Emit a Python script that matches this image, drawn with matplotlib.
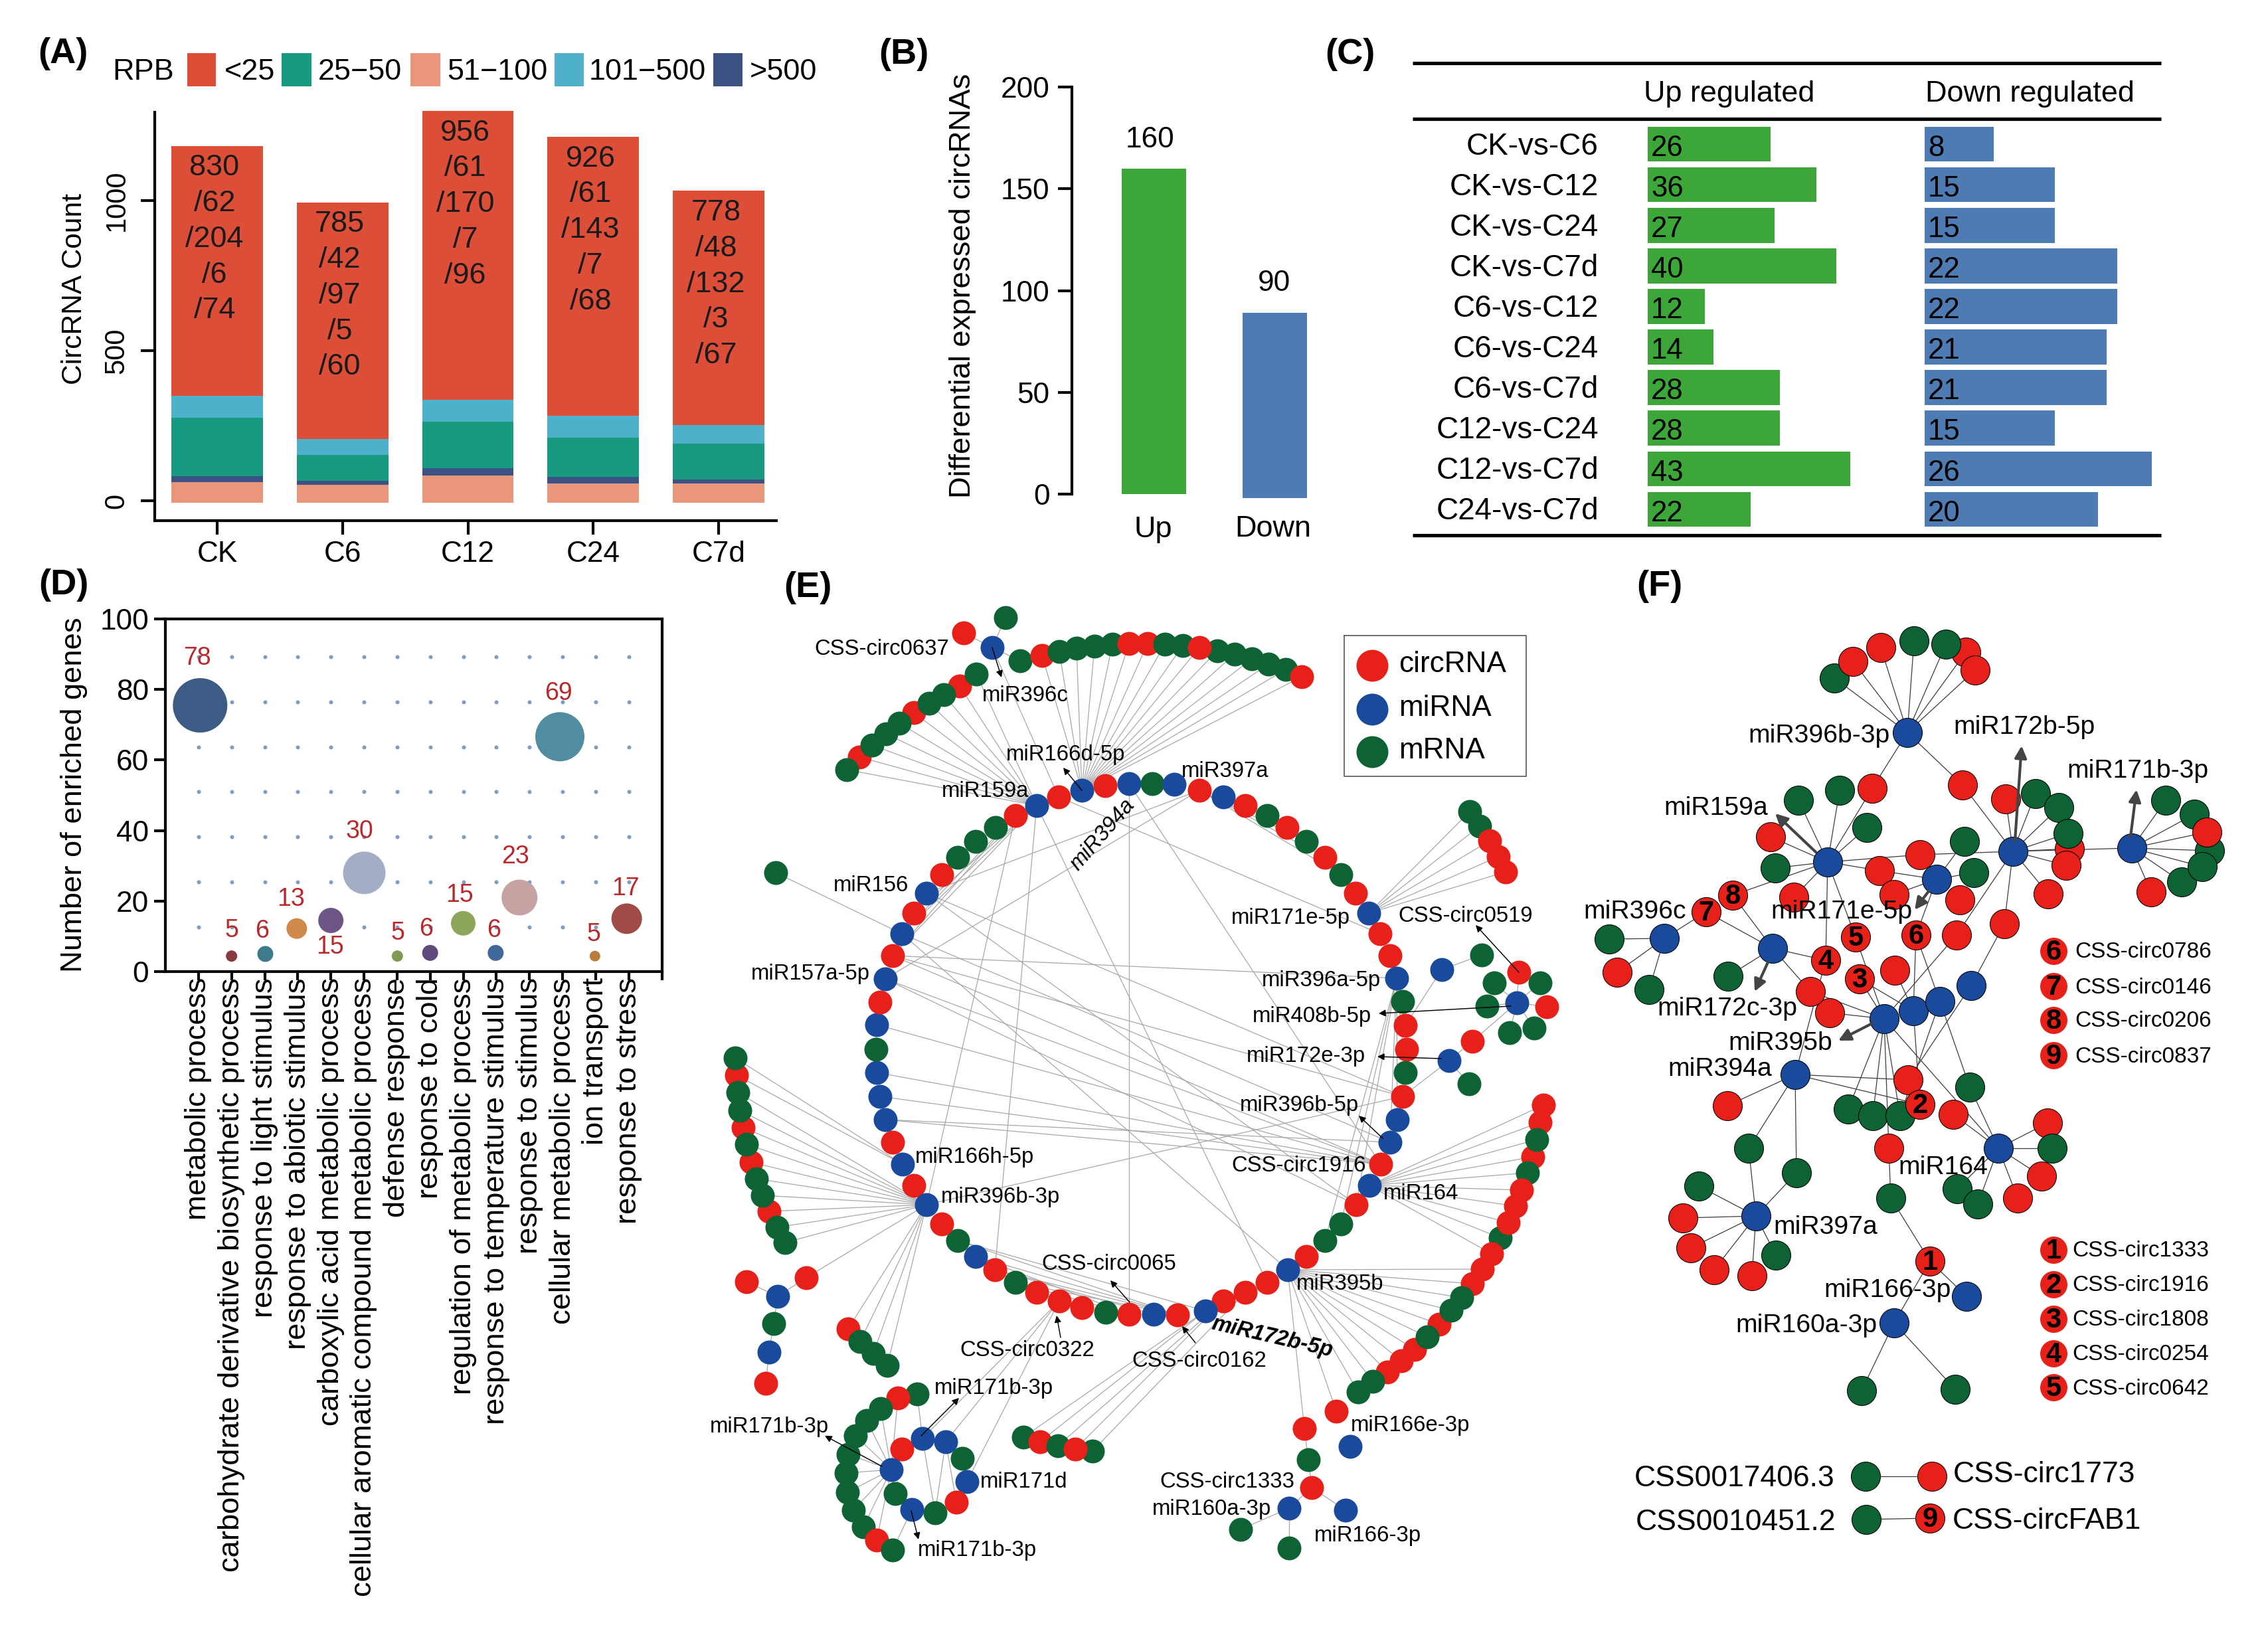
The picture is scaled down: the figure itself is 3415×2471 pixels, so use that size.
import matplotlib
matplotlib.use("Agg")
import matplotlib.pyplot as plt

plt.rcParams.update({
    "font.family": ["Liberation Sans", "DejaVu Sans"],
    "axes.linewidth": 1.0,
    "xtick.major.width": 1.0,
    "ytick.major.width": 1.0,
})

W, H = 3415, 2471
TXT_DY = 4  # loose labels sit a little low against the font box

# -----------------------------
# Panel A data
# -----------------------------
samples = ["CK", "C6", "C12", "C24", "C7d"]
count_red = [832, 787, 961, 929, 779]
count_cyan = [73, 53, 73, 72, 62]
count_teal = [194, 88, 156, 132, 120]
count_navy = [20, 13, 23, 21, 13]
count_salmon = [70, 60, 92, 65, 65]
bar_labels = [
    "830\n/62\n/204\n/6\n/74",
    "785\n/42\n/97\n/5\n/60",
    "956\n/61\n/170\n/7\n/96",
    "926\n/61\n/143\n/7\n/68",
    "778\n/48\n/132\n/3\n/67",
]
rpb_names = ["<25", "25\u221250", "51\u2212100", "101\u2212500", ">500"]

# -----------------------------
# Panel B data
# -----------------------------
de_names = ["Up", "Down"]
de_heights = [160, 91]
de_bottoms = [0, -2]
de_labels = ["160", "90"]

# -----------------------------
# Panel C data
# -----------------------------
comparisons = ["CK-vs-C6", "CK-vs-C12", "CK-vs-C24", "CK-vs-C7d", "C6-vs-C12",
               "C6-vs-C24", "C6-vs-C7d", "C12-vs-C24", "C12-vs-C7d", "C24-vs-C7d"]
up_reg = [26, 36, 27, 40, 12, 14, 28, 28, 43, 22]
down_reg = [8, 15, 15, 22, 22, 21, 21, 15, 26, 20]
# drawn bar lengths differ slightly from the printed numbers
up_len = [26, 35.7, 26.8, 39.9, 12.1, 13.9, 28, 28, 42.9, 21.8]
down_len = [8, 15, 15, 22.2, 22.2, 21, 21, 15, 26.2, 20]

# -----------------------------
# Panel D data
# -----------------------------
go_terms = ["metabolic process", "carbohydrate derivative biosynthetic process",
            "response to light stimulus", "response to abiotic stimulus",
            "carboxylic acid metabolic process",
            "cellular aromatic compound metabolic process", "defense response",
            "response to cold", "regulation of metabolic process",
            "response to temperature stimulus", "response to stimulus",
            "cellular metabolic process", "ion transport", "response to stress"]
go_x = [1.05, 2, 3.02, 3.97, 5, 6.01, 7.01, 8, 9, 9.98, 10.7, 11.92, 12.98, 13.94]
go_y = [75.5, 4.4, 5, 12.2, 14.5, 28, 4.4, 5.3, 13.7, 5.3, 21, 66.6, 4.4, 15]
go_diam = [82, 17, 24, 31, 38, 64, 17, 24, 37, 24, 54, 74, 16, 46]
go_colors = ["#3c5c85", "#8a3a3f", "#3d7a8c", "#cf8a4b", "#6e5587", "#a3aec6", "#7f9a52",
             "#5f4a7e", "#8ea65c", "#40699a", "#c6a2a2", "#518da0", "#b87c3c", "#9f4c48"]
go_counts = ["78", "5", "6", "13", "15", "30", "5", "6", "15", "6", "23", "69", "5", "17"]
go_count_x = [0.97, 2, 2.93, 3.8, 4.97, 5.87, 7.03, 7.87, 8.88, 9.93, 10.57, 11.88, 12.95, 13.91]
go_count_y = [88.9, 11.7, 11.5, 20.5, 6.9, 39.8, 11, 12, 21.7, 11.6, 32.5, 79, 10.5, 23.5]
dot_levels = [12.7, 25.5, 38.2, 51, 63.7, 76.5, 89.3]

# -----------------------------
# Panel E data (network layout, image pixels)
# -----------------------------
e_ring = [
    (1333, 1474, "b"), (1344, 1439, "r"), (1358, 1406, "b"), (1376, 1375, "r"), (1395, 1345, "b"),
    (1418, 1317, "r"), (1442, 1291, "g"), (1469, 1267, "g"), (1499, 1246, "g"), (1529, 1228, "r"),
    (1561, 1213, "b"), (1594, 1200, "r"), (1629, 1190, "b"), (1664, 1183, "r"), (1700, 1180, "b"),
    (1735, 1180, "g"), (1768, 1181, "b"), (1806, 1190, "r"), (1842, 1200, "b"), (1875, 1213, "r"),
    (1908, 1228, "g"), (1938, 1246, "r"), (1967, 1267, "g"), (1995, 1291, "r"), (2019, 1317, "g"),
    (2041, 1345, "r"), (2061, 1375, "b"), (2078, 1406, "r"), (2093, 1439, "r"), (2103, 1473, "b"),
    (2112, 1508, "g"), (2116, 1544, "r"), (2118, 1580, "r"), (2116, 1615, "g"), (2112, 1651, "r"),
    (2104, 1686, "b"), (2093, 1720, "b"), (2079, 1753, "r"), (2042, 1814, "r"), (2062, 1785, "b"),
    (2019, 1843, "g"), (1995, 1868, "g"), (1967, 1892, "r"), (1939, 1912, "b"), (1908, 1931, "r"),
    (1875, 1946, "r"), (1842, 1959, "r"), (1815, 1974, "b"), (1773, 1980, "r"), (1737, 1979, "b"),
    (1700, 1979, "r"), (1665, 1976, "g"), (1629, 1969, "r"), (1595, 1959, "r"), (1561, 1946, "r"),
    (1529, 1931, "g"), (1498, 1912, "r"), (1469, 1892, "b"), (1442, 1868, "g"), (1418, 1843, "r"),
    (1376, 1785, "r"), (1395, 1814, "b"), (1359, 1753, "b"), (1344, 1720, "r"), (1333, 1686, "b"),
    (1325, 1651, "b"), (1320, 1615, "b"), (1319, 1580, "g"), (1320, 1543, "b"), (1325, 1509, "r"),
]
e_top_left = [
    (1294, 1140, "r"), (1275, 1159, "g"), (1376, 1073, "r"), (1445, 1033, "r"), (1313, 1122, "g"),
    (1334, 1105, "g"), (1354, 1089, "g"), (1399, 1059, "g"), (1421, 1046, "g"), (1470, 1015, "g"),
]
e_top_right = [
    (1536, 995, "g"), (1569, 987, "r"), (1595, 981, "g"), (1621, 976, "g"), (1648, 973, "g"),
    (1675, 970, "g"), (1728, 969, "r"), (1700, 969, "r"), (1754, 970, "g"), (1781, 972, "g"),
    (1833, 980, "g"), (1859, 985, "g"), (1885, 992, "g"), (1910, 1000, "g"), (1936, 1008, "g"),
    (1806, 975, "r"), (1960, 1019, "r"),
]
e_small = [
    (1451, 953, "r"), (1494, 975, "b"), (1514, 930, "g"), (1168, 1314, "g"),
    (2213, 1222, "g"), (2228, 1244, "g"), (2243, 1266, "r"), (2256, 1290, "r"), (2267, 1313, "r"),
    (2231, 1438, "g"), (2171, 1460, "b"), (2287, 1464, "r"), (2250, 1480, "g"), (2319, 1480, "g"),
    (2239, 1515, "g"), (2329, 1516, "r"), (2273, 1555, "g"), (2310, 1548, "g"), (2284, 1510, "b"),
    (2217, 1568, "r"), (2182, 1597, "b"), (2212, 1632, "g"),
    (1124, 1930, "r"), (1214, 1924, "r"), (1171, 1952, "b"), (1165, 1993, "g"), (1158, 2036, "b"),
    (1153, 2083, "r"), (1277, 2001, "r"), (1295, 2020, "g"), (1315, 2038, "g"), (1336, 2056, "g"),
    (2012, 2125, "r"), (2033, 2178, "b"), (1964, 2151, "r"), (1970, 2198, "g"), (1975, 2240, "r"),
    (1941, 2271, "b"), (2026, 2274, "b"), (1868, 2303, "g"), (1941, 2331, "g"),
    (1541, 2164, "g"), (1566, 2171, "r"), (1593, 2177, "g"), (1645, 2185, "g"), (1619, 2182, "r"),
]
e_left_arc = [
    (1109, 1619, "r"), (1119, 1698, "r"), (1131, 1750, "r"), (1158, 1824, "r"),
    (1107, 1593, "g"), (1111, 1645, "g"), (1114, 1672, "g"), (1124, 1723, "g"), (1139, 1775, "g"),
    (1148, 1800, "g"), (1170, 1848, "g"), (1182, 1871, "g"),
]
e_right_arc = [
    (2324, 1664, "r"), (2319, 1690, "r"), (2308, 1742, "r"), (2314, 1716, "g"), (2300, 1766, "g"),
    (2259, 1864, "g"), (2291, 1792, "r"), (2282, 1816, "r"), (2271, 1841, "r"), (2246, 1888, "r"),
    (2232, 1911, "r"), (2217, 1933, "r"), (2167, 1994, "r"), (2201, 1954, "g"), (2185, 1973, "g"),
    (2089, 2066, "r"), (2110, 2049, "r"), (2130, 2032, "r"), (2149, 2013, "g"),
    (2067, 2080, "g"), (2045, 2096, "g"),
]
e_bottom_left = [
    (1381, 2099, "g"), (1352, 2105, "r"), (1326, 2121, "g"), (1305, 2139, "g"), (1288, 2162, "g"),
    (1277, 2190, "g"), (1274, 2218, "g"), (1276, 2247, "g"), (1285, 2274, "g"), (1300, 2299, "g"),
    (1320, 2319, "r"), (1344, 2334, "g"), (1358, 2182, "r"), (1389, 2166, "b"), (1424, 2171, "b"),
    (1449, 2196, "g"), (1456, 2231, "b"), (1440, 2262, "r"), (1408, 2278, "g"), (1373, 2273, "b"),
    (1348, 2249, "g"), (1342, 2213, "b"),
]
e_hub_edges = {
    (1395, 1814): [(1111, 1645), (1114, 1672), (1119, 1698), (1124, 1723), (1131, 1750), (1139, 1775),
                   (1148, 1800), (1158, 1824), (1170, 1848), (1182, 1871), (1214, 1924), (1277, 2001),
                   (1295, 2020), (1315, 2038), (1336, 2056), (2112, 1651), (1529, 1228)],
    (1359, 1753): [(1107, 1593), (1109, 1619)],
    (1629, 1190): [(1569, 987), (1595, 981), (1621, 976), (1648, 973), (1675, 970), (1700, 969), (1728, 969),
                   (1754, 970), (1781, 972), (1806, 975), (1833, 980), (1859, 985), (1885, 992), (1910, 1000),
                   (1936, 1008), (1960, 1019)],
    (1561, 1213): [(1275, 1159), (1294, 1140), (1313, 1122), (1334, 1105), (1354, 1089), (1376, 1073),
                   (1399, 1059), (1421, 1046), (1445, 1033), (1470, 1015), (1498, 1912), (1908, 1931),
                   (1358, 1406), (1344, 1439), (1376, 1375)],
    (1529, 1228): [(1358, 1406), (1344, 1439)],
    (2061, 1375): [(2213, 1222), (2228, 1244), (2243, 1266), (2256, 1290), (2267, 1313)],
    (2062, 1785): [(2324, 1664), (2319, 1690), (2314, 1716), (2308, 1742), (2300, 1766), (2291, 1792),
                   (2282, 1816), (2271, 1841), (2259, 1864), (2246, 1888)],
    (1939, 1912): [(2232, 1911), (2217, 1933), (2201, 1954), (2185, 1973), (2167, 1994), (2149, 2013),
                   (2130, 2032), (2110, 2049), (2089, 2066), (2067, 2080), (2045, 2096), (2012, 2125),
                   (1964, 2151)],
    (1494, 975): [(1451, 953), (1514, 930), (1536, 995), (1594, 1200)],
    (2284, 1510): [(2287, 1464), (2250, 1480), (2319, 1480), (2239, 1515), (2329, 1516), (2273, 1555),
                   (2310, 1548), (2217, 1568)],
    (2182, 1597): [(2217, 1568), (2212, 1632), (2112, 1651)],
    (2171, 1460): [(2231, 1438), (2116, 1544)],
    (1171, 1952): [(1124, 1930), (1214, 1924), (1165, 1993)],
    (1158, 2036): [(1165, 1993), (1153, 2083)],
    (1975, 2240): [(1970, 2198), (1941, 2271), (2026, 2274)],
    (1941, 2271): [(1868, 2303), (1941, 2331)],
    (1964, 2151): [(1970, 2198)],
    (1342, 2213): [(1288, 2162), (1305, 2139), (1326, 2121), (1277, 2190), (1274, 2218), (1276, 2247),
                   (1285, 2274), (1300, 2299), (1358, 2182), (1348, 2249), (1352, 2105), (1320, 2319),
                   (1373, 2273)],
    (1389, 2166): [(1358, 2182), (1408, 2278), (1381, 2099)],
    (1424, 2171): [(1449, 2196), (1440, 2262), (1408, 2278)],
    (1373, 2273): [(1344, 2334), (1348, 2249)],
    (1595, 1959): [(1424, 2171), (1456, 2231), (1389, 2166)],
    (1815, 1974): [(1541, 2164), (1566, 2171)],
    (1842, 1959): [(1593, 2177), (1619, 2182)],
    (1875, 1946): [(1645, 2185)],
}
e_chords = [
    ((1168, 1314), (1358, 1406)), ((1358, 1406), (2093, 1720)), ((1344, 1439), (2103, 1473)),
    ((1344, 1439), (2079, 1753)), ((1344, 1439), (2112, 1651)), ((1333, 1474), (2079, 1753)),
    ((1333, 1474), (2042, 1814)), ((1320, 1543), (2079, 1753)), ((1320, 1615), (2079, 1753)),
    ((1325, 1651), (2079, 1753)), ((1333, 1686), (2079, 1753)), ((1333, 1686), (2093, 1720)),
    ((1395, 1345), (2112, 1651)), ((1395, 1345), (2042, 1814)), ((1358, 1406), (1939, 1912)),
    ((1700, 1180), (1700, 1979)), ((1594, 1200), (2078, 1406)), ((1700, 1180), (2079, 1753)),
    ((1806, 1190), (1333, 1474)), ((1806, 1190), (1395, 1345)), ((1806, 1190), (2019, 1317)),
    ((1806, 1190), (1967, 1267)), ((1806, 1190), (1995, 1291)), ((2103, 1473), (2019, 1843)),
    ((2103, 1473), (1995, 1868)), ((2103, 1473), (2042, 1814)), ((2103, 1473), (2093, 1720)),
    ((2103, 1473), (2104, 1686)), ((2103, 1473), (2116, 1615)), ((1442, 1868), (1773, 1980)),
    ((1442, 1868), (1815, 1974)), ((1469, 1892), (1773, 1980)), ((1469, 1892), (1700, 1979)),
    ((1498, 1912), (1773, 1980)), ((1498, 1912), (1737, 1979)), ((1529, 1931), (1773, 1980)),
    ((1529, 1931), (1700, 1979)),
]
e_arrows = [
    ((1494, 975), (1508, 1020)), ((1629, 1190), (1601, 1156)), ((2287, 1464), (2222, 1393)),
    ((2275, 1515), (2076, 1526)), ((2170, 1594), (2074, 1591)), ((2082, 1714), (2046, 1680)),
    ((1701, 1961), (1672, 1928)), ((1597, 2014), (1591, 1981)), ((1800, 2022), (1780, 1997)),
    ((1387, 2162), (1444, 2105)), ((1328, 2208), (1242, 2162)), ((1372, 2275), (1383, 2318)),
]
e_labels = [
    ("CSS-circ0637", 1328, 973), ("miR396c", 1544, 1044), ("miR166d-5p", 1605, 1133), ("miR397a", 1845, 1158),
    ("miR159a", 1484, 1188), ("miR156", 1312, 1329), ("miR157a-5p", 1220, 1462), ("miR171e-5p", 1943, 1379),
    ("CSS-circ0519", 2207, 1375), ("miR396a-5p", 1989, 1472), ("miR408b-5p", 1975, 1527),
    ("miR172e-3p", 1966, 1586), ("miR396b-5p", 1956, 1661), ("CSS-circ1916", 1956, 1751), ("miR164", 2140, 1793),
    ("miR166h-5p", 1467, 1739), ("miR396b-3p", 1506, 1799), ("CSS-circ0065", 1670, 1899), ("miR395b", 2018, 1929),
    ("CSS-circ0322", 1547, 2029), ("CSS-circ0162", 1806, 2046), ("miR171b-3p", 1496, 2086),
    ("miR171b-3p", 1158, 2144), ("miR171d", 1542, 2228), ("miR171b-3p", 1471, 2331), ("miR166e-3p", 2124, 2143),
    ("CSS-circ1333", 1848, 2228), ("miR160a-3p", 1824, 2268), ("miR166-3p", 2059, 2309),
]
e_legend_names = ["circRNA", "miRNA", "mRNA"]

# -----------------------------
# Panel F data (network layout, image pixels)
# -----------------------------
f_nodes = [
    (2762, 1021, "g", ""), (2790, 996, "r", ""), (2832, 975, "r", ""), (2882, 965, "g", ""), (2960, 982, "r", ""),
    (2930, 970, "g", ""), (2974, 1009, "r", ""), (2872, 1103, "b", ""), (2955, 1182, "r", ""), (2819, 1187, "r", ""),
    (2770, 1190, "g", ""), (2708, 1205, "g", ""), (2811, 1246, "g", ""), (2666, 1260, "r", ""), (2752, 1298, "b", ""),
    (2673, 1307, "g", ""), (2701, 1351, "r", ""), (2609, 1348, "r", "8"), (2569, 1373, "r", "7"), (2506, 1413, "b", ""),
    (2423, 1414, "g", ""), (2435, 1464, "r", ""), (2483, 1490, "g", ""), (2669, 1428, "b", ""), (2602, 1470, "g", ""),
    (2755, 1525, "r", ""), (2726, 1493, "r", ""), (2749, 1446, "r", "4"), (2794, 1411, "r", "5"), (2800, 1474, "r", "3"),
    (2853, 1461, "r", ""), (2885, 1408, "r", "6"), (2891, 1287, "r", ""), (2830, 1311, "r", ""), (2852, 1347, "r", ""),
    (2958, 1267, "g", ""), (2972, 1314, "g", ""), (2951, 1355, "r", ""), (2916, 1324, "b", ""), (2946, 1408, "r", ""),
    (3018, 1391, "r", ""), (3020, 1203, "r", ""), (3065, 1195, "g", ""), (3100, 1216, "g", ""), (3116, 1278, "r", ""),
    (3114, 1255, "g", ""), (3111, 1303, "r", ""), (3084, 1346, "r", ""), (3031, 1282, "b", ""), (3261, 1205, "g", ""),
    (3304, 1226, "g", ""), (3327, 1281, "g", ""), (3323, 1253, "r", ""), (3285, 1328, "g", ""), (3316, 1305, "g", ""),
    (3239, 1343, "r", ""), (3210, 1277, "b", ""), (2837, 1534, "b", ""), (2881, 1522, "b", ""), (2921, 1508, "b", ""),
    (2968, 1484, "b", ""), (2703, 1618, "b", ""), (2873, 1626, "r", ""), (2966, 1637, "g", ""), (2783, 1670, "g", ""),
    (2820, 1680, "g", ""), (2861, 1680, "g", ""), (2891, 1663, "r", "2"), (2941, 1678, "r", ""), (2601, 1665, "r", ""),
    (2633, 1729, "g", ""), (2705, 1766, "g", ""), (2844, 1729, "r", ""), (3083, 1691, "r", ""), (3090, 1729, "g", ""),
    (3074, 1771, "r", ""), (3009, 1729, "b", ""), (3038, 1804, "r", ""), (2947, 1790, "g", ""), (2978, 1813, "g", ""),
    (2847, 1804, "g", ""), (2558, 1786, "g", ""), (2644, 1831, "b", ""), (2534, 1834, "r", ""), (2546, 1879, "r", ""),
    (2581, 1912, "r", ""), (2638, 1921, "r", ""), (2674, 1890, "g", ""), (2906, 1899, "r", "1"), (2961, 1952, "b", ""),
    (2852, 1992, "b", ""), (2803, 2094, "g", ""), (2944, 2092, "g", ""),
    (2809, 2223, "g", ""), (2909, 2223, "r", ""), (2810, 2288, "g", ""), (2906, 2286, "r", "9"),
]
f_hub_edges = {
    (2872, 1103): [(2762, 1021), (2790, 996), (2832, 975), (2882, 965), (2960, 982), (2930, 970), (2974, 1009),
                   (2955, 1182), (2819, 1187)],
    (2752, 1298): [(2708, 1205), (2770, 1190), (2811, 1246), (2819, 1187), (2666, 1260), (2673, 1307), (2701, 1351),
                   (2891, 1287), (2830, 1311), (2609, 1348), (2794, 1411), (2749, 1446)],
    (3031, 1282): [(2955, 1182), (3020, 1203), (3065, 1195), (3100, 1216), (3114, 1255), (3116, 1278), (3111, 1303),
                   (3084, 1346), (3210, 1277), (2891, 1287), (3018, 1391), (2946, 1408)],
    (3210, 1277): [(3261, 1205), (3304, 1226), (3323, 1253), (3327, 1281), (3316, 1305), (3285, 1328), (3239, 1343)],
    (2916, 1324): [(2958, 1267), (2972, 1314), (2830, 1311), (2852, 1347), (2885, 1408)],
    (2506, 1413): [(2423, 1414), (2435, 1464), (2483, 1490), (2569, 1373)],
    (2669, 1428): [(2569, 1373), (2609, 1348), (2602, 1470), (2726, 1493), (2749, 1446)],
    (2837, 1534): [(2755, 1525), (2726, 1493), (2800, 1474), (2946, 1408), (2794, 1411), (2783, 1670), (2820, 1680),
                   (2861, 1680), (2844, 1729), (3009, 1729)],
    (2881, 1522): [(2853, 1461), (2800, 1474), (2885, 1408), (2891, 1663)],
    (2921, 1508): [(2885, 1408), (2966, 1637), (2861, 1680)],
    (2968, 1484): [(3018, 1391), (2873, 1626)],
    (2703, 1618): [(2749, 1446), (2873, 1626), (2891, 1663), (2601, 1665), (2633, 1729), (2705, 1766)],
    (3009, 1729): [(2941, 1678), (2966, 1637), (3083, 1691), (3090, 1729), (3074, 1771), (3038, 1804), (2978, 1813),
                   (2947, 1790)],
    (2644, 1831): [(2633, 1729), (2705, 1766), (2558, 1786), (2534, 1834), (2546, 1879), (2581, 1912), (2638, 1921),
                   (2674, 1890)],
    (2847, 1804): [(2844, 1729), (2906, 1899)],
    (2906, 1899): [(2961, 1952), (2852, 1992)],
    (2852, 1992): [(2803, 2094), (2944, 2092)],
    (2809, 2223): [(2909, 2223)],
    (2810, 2288): [(2906, 2286)],
}
f_arrows = [
    ((2734, 1283), (2673, 1225)), ((3034, 1266), (3044, 1123)), ((3208, 1260), (3217, 1189)),
    ((2904, 1342), (2883, 1370)), ((2662, 1449), (2642, 1493)), ((2819, 1541), (2768, 1567)),
]
f_labels = [
    ("miR396b-3p", 2739, 1104), ("miR172b-5p", 3048, 1091), ("miR171b-3p", 3219, 1157), ("miR159a", 2584, 1213),
    ("miR396c", 2462, 1369), ("miR171e-5p", 2773, 1369), ("miR172c-3p", 2601, 1515), ("miR395b", 2681, 1567),
    ("miR394a", 2590, 1606), ("miR164", 2926, 1754), ("miR397a", 2749, 1844), ("miR166-3p", 2842, 1939),
    ("miR160a-3p", 2720, 1992),
]
key_upper = [("6", "CSS-circ0786", 1432), ("7", "CSS-circ0146", 1485), ("8", "CSS-circ0206", 1536), ("9", "CSS-circ0837", 1589)]
key_lower = [("1", "CSS-circ1333", 1882), ("2", "CSS-circ1916", 1934), ("3", "CSS-circ1808", 1986),
             ("4", "CSS-circ0254", 2038), ("5", "CSS-circ0642", 2089)]

NODE = {"r": "#e8201a", "b": "#1a4a9c", "g": "#0e6335"}


def box(left, top, right, bottom):
    return [left / W, 1 - bottom / H, (right - left) / W, (bottom - top) / H]


def area(d_px):
    return (d_px * 72 / 300) ** 2


fig = plt.figure(figsize=(W / 300, H / 300), dpi=300)

# whole-figure layer in pixels for networks and loose text
net = fig.add_axes([0, 0, 1, 1])
net.set_xlim(0, W)
net.set_ylim(H, 0)
net.axis("off")

for txt, x, y in [("(A)", 95, 81), ("(B)", 1361, 82), ("(C)", 2033, 82),
                  ("(D)", 96, 881), ("(E)", 1216, 885), ("(F)", 2499, 883)]:
    net.text(x, y, txt, fontsize=13, fontweight="bold", ha="center", va="center")

# -----------------------------
# Panel A
# -----------------------------
ax = fig.add_axes(box(233, 169, 1169, 784))
ax.patch.set_alpha(0)
ax.set_xlim(-0.498, 4.46)
ax.set_ylim(-66, 1294)
xs = range(len(samples))
base = [-7] * 5
for vals, col in [(count_salmon, "#ea967a"), (count_navy, "#3c5285"), (count_teal, "#179a80"),
                  (count_cyan, "#4fb0c9"), (count_red, "#dc4e38")]:
    ax.bar(xs, vals, bottom=base, width=0.73, color=col, clip_on=False)
    base = [b + v for b, v in zip(base, vals)]
for i, top in enumerate(base):
    ax.annotate(bar_labels[i], (i, top), xytext=(-1, -3), textcoords="offset points", ha="center", va="top",
                fontsize=10.8, linespacing=1.4, color="#1a1a1a", annotation_clip=False)
ax.spines["top"].set_visible(False)
ax.spines["right"].set_visible(False)
ax.set_xticks(list(xs))
ax.set_xticklabels(samples, fontsize=10.6)
ax.set_yticks([0, 500, 1000])
ax.set_yticklabels(["0", "500", "1000"], fontsize=10, rotation=90, va="center")
ax.tick_params(axis="y", length=5, pad=4)
ax.tick_params(axis="x", length=5, pad=2.3)
net.text(112, 435, "CircRNA Count", fontsize=10.2, rotation=90, ha="center", va="center")

net.text(216, 108, "RPB", fontsize=10.8, ha="center", va="center")
for (l, r, tx), name, col in zip([(282, 325, 338), (424, 469, 479), (618, 663, 673), (835, 879, 887), (1074, 1118, 1129)],
                                 rpb_names, ["#dc4e38", "#179a80", "#ea967a", "#4fb0c9", "#3c5285"]):
    net.fill_between([l, r], 80, 130, color=col, lw=0)
    net.text(tx, 108, name, fontsize=10.8, ha="left", va="center")

# -----------------------------
# Panel B
# -----------------------------
ax = fig.add_axes(box(1614, 131, 2000, 744))
ax.patch.set_alpha(0)
ax.set_xlim(-123.5, 262.5)  # one unit = one image pixel here
ax.set_ylim(0, 200)
ax.bar([0, 182], de_heights, bottom=de_bottoms, width=97,
       color=["#3ca738", "#4e7bb2"], clip_on=False)
ax.spines["top"].set_visible(False)
ax.spines["right"].set_visible(False)
ax.spines["bottom"].set_visible(False)
ax.set_yticks([0, 50, 100, 150, 200])
ax.tick_params(axis="y", length=5, labelsize=10.6, pad=3)
ax.set_xticks([])
net.text(1736, 797, de_names[0], fontsize=10.8, ha="center", va="center")
net.text(1917, 797, de_names[1], fontsize=10.8, ha="center", va="center")
net.text(1731, 211, de_labels[0], fontsize=10.6, ha="center", va="center")
net.text(1919, 427, de_labels[1], fontsize=10.6, ha="center", va="center")
net.text(1449, 430, "Differential expressed circRNAs", fontsize=10.9, rotation=90, ha="center", va="center")

# -----------------------------
# Panel C
# -----------------------------
for y in [95, 179, 806]:
    net.plot([2127, 3254], [y, y], color="black", lw=1.25, solid_capstyle="butt")
net.text(2604, 141, "Up regulated", fontsize=10.8, ha="center", va="center")
net.text(3056, 141, "Down regulated", fontsize=10.8, ha="center", va="center")
for left, right, ppx, vals, nums, col in [(2481, 2800, 7.12, up_len, up_reg, "#3ca738"),
                                          (2898, 3254, 13.05, down_len, down_reg, "#4e7bb2")]:
    ax = fig.add_axes(box(left, 186.5, right, 797.5))
    ax.axis("off")
    ax.set_xlim(0, (right - left) / ppx)
    ax.set_ylim(9.5, -0.5)
    ax.barh(range(10), vals, height=0.86, color=col)
    for i, n in enumerate(nums):
        ax.annotate(str(n), (0, i), xytext=(1.2, -1.5), textcoords="offset points", fontsize=10.5, va="center")
for i, name in enumerate(comparisons):
    net.text(2407, 221 + 61 * i, name, fontsize=11, ha="right", va="center")

# -----------------------------
# Panel D
# -----------------------------
ax = fig.add_axes(box(249, 932, 996.5, 1463))
ax.patch.set_alpha(0)
ax.set_xlim(0, 15)
ax.set_ylim(0, 100)
for lv in dot_levels:
    ax.scatter(range(1, 15), [lv] * 14, s=area(6), color="#7f9cc4", linewidths=0, zorder=1)
ax.scatter(go_x, go_y, s=[area(d) for d in go_diam], c=go_colors, linewidths=0, zorder=2)
for x, y, t in zip(go_count_x, go_count_y, go_counts):
    ax.text(x, y, t, color="#b9282a", fontsize=9, ha="center", va="center", zorder=3)
ax.set_xticks(list(range(1, 16)))
ax.set_xticklabels(go_terms + [""], rotation=90, fontsize=10.9, ha="center", va="top")
ax.set_yticks([0, 20, 40, 60, 80, 100])
ax.tick_params(axis="y", length=4, labelsize=10.6, pad=2)
ax.tick_params(axis="x", length=3.2, pad=-1)
net.text(112, 1197, "Number of enriched genes", fontsize=10.9, rotation=90, ha="center", va="center")

# -----------------------------
# Panel E
# -----------------------------
for hub, leaves in e_hub_edges.items():
    for p in leaves:
        net.plot([hub[0], p[0]], [hub[1], p[1]], color="#a8a8a8", lw=0.3, zorder=1)
for a, b in e_chords:
    net.plot([a[0], b[0]], [a[1], b[1]], color="#a8a8a8", lw=0.3, zorder=1)

z = 2
for group in [e_top_left, e_top_right, e_ring, e_small, e_left_arc, e_right_arc, e_bottom_left]:
    for x, y, c in group:
        net.scatter(x, y, s=area(36), color=NODE[c], linewidths=0, zorder=z)
        z += 0.001

for a, b in e_arrows:
    net.annotate("", xy=b, xytext=a, zorder=5,
                 arrowprops=dict(arrowstyle="-|>", color="black", lw=0.35, mutation_scale=5, shrinkA=0, shrinkB=0))
for t, x, y in e_labels:
    net.text(x, y + TXT_DY, t, fontsize=7.9, ha="center", va="center", zorder=6)
net.text(1660, 1257, "miR394a", fontsize=7.9, style="italic", rotation=49, ha="center", va="center", zorder=6)
net.text(1916, 2014, "miR172b-5p", fontsize=7.9, style="italic", fontweight="bold", rotation=-13,
         ha="center", va="center", zorder=6)

net.plot([2024, 2298, 2298, 2024, 2024], [957, 957, 1169, 1169, 957], color="#555555", lw=0.4, zorder=6)
for name, c, y in zip(e_legend_names, "rbg", [1002, 1068, 1132]):
    net.scatter(2066, y, s=area(48), color=NODE[c], linewidths=0, zorder=6)
    net.text(2106, y - 2, name, fontsize=10.6, ha="left", va="center", zorder=6)

# -----------------------------
# Panel F
# -----------------------------
for hub, leaves in f_hub_edges.items():
    for p in leaves:
        net.plot([hub[0], p[0]], [hub[1], p[1]], color="#3c3c3c", lw=0.3, zorder=7)
z = 8
for x, y, c, num in f_nodes:
    net.scatter(x, y, s=area(44), color=NODE[c], edgecolors="black", linewidths=0.25, zorder=z)
    if num:
        net.text(x, y + 2, num, fontsize=10, fontweight="bold", ha="center", va="center", zorder=z + 0.0005)
    z += 0.001
for a, b in f_arrows:
    net.annotate("", xy=b, xytext=a, zorder=9,
                 arrowprops=dict(arrowstyle="-|>", color="#444444", lw=1.0, mutation_scale=9, shrinkA=0, shrinkB=0))
for t, x, y in f_labels:
    net.text(x, y + TXT_DY, t, fontsize=9.4, ha="center", va="center", zorder=10)
for keys, tx in [(key_upper, 3124), (key_lower, 3120)]:
    for num, name, y in keys:
        net.scatter(3092, y, s=area(41), color=NODE["r"], linewidths=0, zorder=10)
        net.text(3092, y + 2, num, fontsize=10, fontweight="bold", ha="center", va="center", zorder=11)
        net.text(tx, y + 2, name, fontsize=8, ha="left", va="center", zorder=11)
net.text(2612, 2227, "CSS0017406.3", fontsize=10.7, ha="center", va="center", zorder=10)
net.text(2614, 2292, "CSS0010451.2", fontsize=10.7, ha="center", va="center", zorder=10)
net.text(2941, 2221, "CSS-circ1773", fontsize=10.7, ha="left", va="center", zorder=10)
net.text(2940, 2290, "CSS-circFAB1", fontsize=10.7, ha="left", va="center", zorder=10)

fig.savefig("out.png", dpi=300)
